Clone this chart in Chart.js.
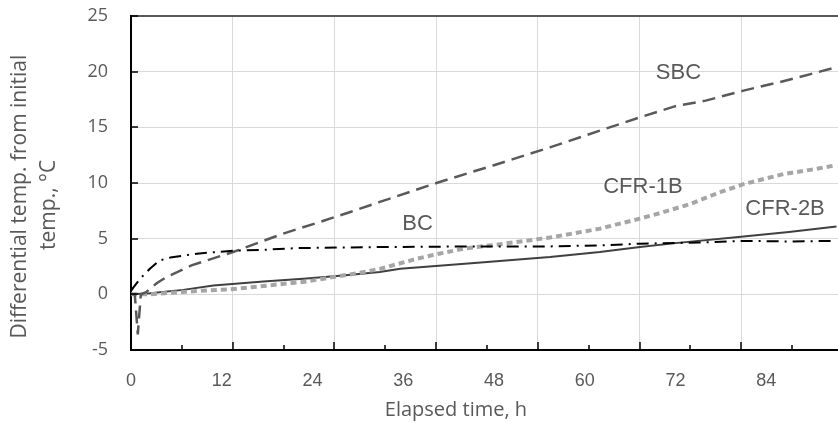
<!DOCTYPE html>
<html>
<head>
<meta charset="utf-8">
<title>Differential temp.</title>
<script src="https://cdn.jsdelivr.net/npm/chart.js"></script>
<style>
  html, body { margin: 0; padding: 0; background: #fff; }
  #wrap { width: 838px; height: 423px; }
</style>
</head>
<body>
<div id="wrap"><canvas id="tempChart" width="838" height="423"></canvas></div>
<script>
'use strict';

// x axis labels (h)
const xTickLabels = [0, 12, 24, 36, 48, 60, 72, 84];

// SBC
const sbcTime = [0, 0.5, 0.9, 1.3, 2, 3.4, 4.7, 8, 13.5, 20.1, 25, 29, 32.9, 40.4, 48, 55.4, 62, 67.3, 72, 76, 81, 86, 90, 93.3];
const sbcTemp = [0, 0, -3.6, 0, 0.2, 1.0, 1.55, 2.6, 3.8, 5.45, 6.5, 7.4, 8.3, 10.0, 11.6, 13.2, 14.7, 15.9, 16.9, 17.4, 18.3, 19.1, 19.8, 20.4];

// BC
const bcTime = [0, 0.3, 1.2, 2.5, 3.8, 5.2, 8.7, 13.1, 17.5, 21.9, 32.9, 45, 55, 62, 67.3, 75, 81, 87, 93.3];
const bcTemp = [0.3, 0.6, 1.4, 2.3, 3.05, 3.3, 3.65, 3.9, 4.0, 4.15, 4.25, 4.3, 4.3, 4.4, 4.55, 4.65, 4.8, 4.75, 4.8];

// CFR-1B
const cfr1Time = [0, 2.5, 8.7, 13.1, 17.5, 23.2, 27.2, 30, 33, 37.8, 40.4, 44, 48.8, 55.4, 62, 67.3, 70, 73.9, 78, 81, 86.3, 90, 93.3];
const cfr1Temp = [0, 0, 0.3, 0.45, 0.75, 1.15, 1.6, 1.9, 2.3, 3.2, 3.6, 4.1, 4.5, 5.1, 5.9, 6.8, 7.3, 8.1, 9.2, 9.9, 10.8, 11.2, 11.6];

// CFR-2B
const cfr2Time = [0, 2.5, 6.9, 10.9, 17.5, 22.8, 28, 32.9, 35.6, 45, 55.4, 62, 67.3, 72, 81, 87, 93.3];
const cfr2Temp = [0, 0.1, 0.4, 0.8, 1.15, 1.4, 1.7, 2.0, 2.3, 2.8, 3.35, 3.8, 4.25, 4.6, 5.2, 5.6, 6.1];

const X_MAX = 93.5;      // right edge of the plot
const GRID_STEP = 13.45; // vertical grid spacing (does not match the labels in the original)

function pairs(xs, ys) {
  return xs.map((x, i) => ({ x: x, y: ys[i] }));
}

// series names written next to the lines
const seriesNotes = [
  { text: 'SBC', x: 72.4, y: 19.85 },
  { text: 'BC', x: 37.9, y: 6.3 },
  { text: 'CFR-1B', x: 67.7, y: 9.64 },
  { text: 'CFR-2B', x: 86.5, y: 7.7 }
];

// inward tick marks like the excel chart
const innerTicks = {
  id: 'innerTicks',
  afterDraw(chart) {
    const { ctx, chartArea: a, scales } = chart;
    ctx.save();
    ctx.strokeStyle = '#000';
    ctx.lineWidth = 1.5;
    ctx.beginPath();
    scales.y.ticks.forEach(t => {
      const py = Math.round(scales.y.getPixelForValue(t.value));
      if (py >= a.bottom - 1) return;
      ctx.moveTo(a.left, py);
      ctx.lineTo(a.left + 7, py);
    });
    let i = 1;
    for (let h = GRID_STEP / 2; h < X_MAX; h += GRID_STEP / 2, i++) {
      const px = Math.round(scales.x.getPixelForValue(h));
      const len = i % 2 === 0 ? 8 : 5;
      ctx.moveTo(px, a.bottom);
      ctx.lineTo(px, a.bottom - len);
    }
    ctx.stroke();
    ctx.restore();
  }
};

const seriesLabels = {
  id: 'seriesLabels',
  afterDatasetsDraw(chart) {
    const { ctx, scales } = chart;
    ctx.save();
    ctx.font = '22px "Liberation Sans", Arial, sans-serif';
    ctx.fillStyle = '#595959';
    ctx.textAlign = 'center';
    ctx.textBaseline = 'middle';
    seriesNotes.forEach(n => {
      ctx.fillText(n.text, scales.x.getPixelForValue(n.x), scales.y.getPixelForValue(n.y));
    });
    ctx.restore();
  }
};

const ctx = document.getElementById('tempChart').getContext('2d');
const tempChart = new Chart(ctx, {
  type: 'line',
  data: {
    datasets: [
      {
        label: 'BC',
        data: pairs(bcTime, bcTemp),
        borderColor: '#000000',
        borderWidth: 2,
        borderDash: [12, 6, 2, 6]
      },
      {
        label: 'SBC',
        data: pairs(sbcTime, sbcTemp),
        borderColor: '#595959',
        borderWidth: 2.5,
        borderDash: [13, 7]
      },
      {
        label: 'CFR-1B',
        data: pairs(cfr1Time, cfr1Temp),
        borderColor: '#a6a6a6',
        borderWidth: 4,
        borderDash: [6, 4]
      },
      {
        label: 'CFR-2B',
        data: pairs(cfr2Time, cfr2Temp),
        borderColor: '#404040',
        borderWidth: 2
      }
    ]
  },
  options: {
    responsive: false,
    animation: false,
    devicePixelRatio: 1,
    layout: { padding: { top: 16, right: 0, bottom: 0, left: 0 } },
    elements: {
      point: { radius: 0 },
      line: { tension: 0, fill: false }
    },
    plugins: {
      legend: { display: false },
      tooltip: { enabled: false }
    },
    scales: {
      x: {
        type: 'linear',
        position: 'bottom',
        min: 0,
        max: X_MAX,
        afterFit(scale) {
          scale.height = 73;
          scale.paddingLeft = 0;
          scale.paddingRight = 0;
        },
        grid: { display: false },
        border: { display: true, color: '#000', width: 2 },
        ticks: {
          stepSize: 12,
          includeBounds: false,
          autoSkip: false,
          maxRotation: 0,
          padding: 12,
          color: '#595959',
          font: { family: '"Liberation Sans", Arial, sans-serif', size: 18 },
          callback: v => (xTickLabels.includes(v) ? String(v) : '')
        },
        title: {
          display: true,
          text: 'Elapsed time, h           ',
          color: '#595959',
          font: { family: '"Open Sans", sans-serif', size: 20, lineHeight: 1.2 },
          padding: { top: 0, bottom: 1 }
        }
      },
      xg: {
        type: 'linear',
        position: 'top',
        min: 0,
        max: X_MAX,
        afterFit(scale) { scale.height = 0; },
        afterBuildTicks(scale) {
          const t = [];
          for (let h = GRID_STEP; h < X_MAX; h += GRID_STEP) t.push({ value: h });
          scale.ticks = t;
        },
        grid: { color: '#d9d9d9', lineWidth: 1, drawTicks: false },
        border: { display: true, color: '#595959', width: 2 },
        ticks: { display: false }
      },
      y: {
        min: -5,
        max: 25,
        afterFit(scale) {
          scale.width = 131;
          scale.paddingTop = 0;
          scale.paddingBottom = 0;
        },
        grid: { color: '#d9d9d9', lineWidth: 1, drawTicks: false },
        border: { display: true, color: '#000', width: 2 },
        ticks: {
          stepSize: 5,
          padding: 23,
          color: '#595959',
          font: { family: '"Open Sans", sans-serif', size: 18 }
        },
        title: {
          display: true,
          text: ['Differential temp. from initial     ', 'temp., \u00B0C        '],
          color: '#595959',
          font: { family: '"Open Sans", sans-serif', size: 21, lineHeight: 1.38 },
          padding: { top: 6, bottom: 0 }
        }
      }
    }
  },
  plugins: [innerTicks, seriesLabels]
});
</script>
</body>
</html>
